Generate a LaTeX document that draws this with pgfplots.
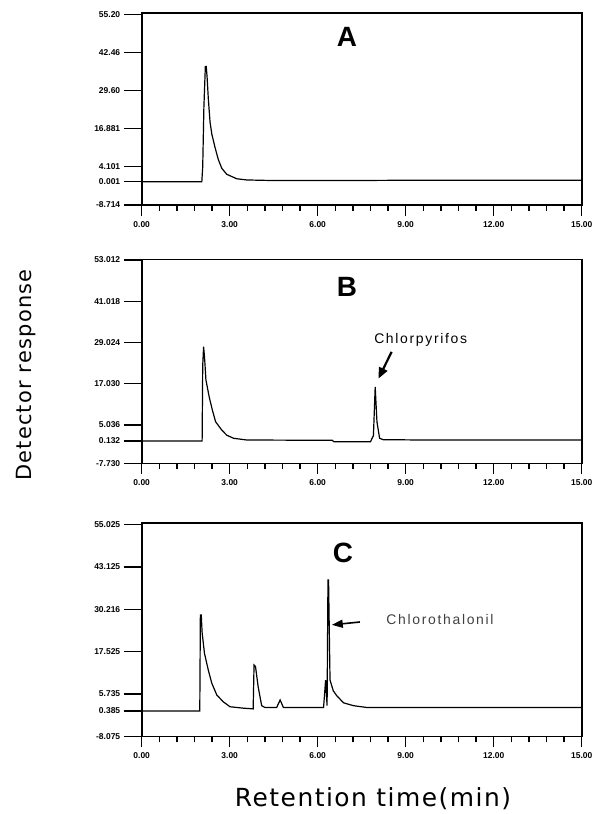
\documentclass[border=0pt]{standalone}
\usepackage{fontspec}
\setmainfont{Liberation Sans}
\newfontfamily\dejavu{DejaVu Sans}
\newfontfamily\spaced[LetterSpace=12]{Liberation Sans}
\newfontfamily\dejavuspaced[LetterSpace=6]{DejaVu Sans}
\usepackage{pgfplots}
\pgfplotsset{compat=1.18}
\usetikzlibrary{arrows.meta}
\pgfplotsset{
  chrom/.style={
    scale only axis, width=440bp,
    xmin=0, xmax=15,
    xtick={0,3,6,9,12,15},
    xticklabels={0.00,3.00,6.00,9.00,12.00,15.00},
    minor x tick num=4,
    ytick=\empty,
    tick pos=left,
    tick align=outside,
    axis line style={line width=1.6bp},
    tick style={black, line width=1.3bp},
    major tick length=11bp, minor tick length=6bp,
    ticklabel style={font=\fontsize{8.5}{9}\selectfont\bfseries, black},
    xticklabel style={yshift=-2bp},
    extra y tick style={major tick length=18bp, tick style={black, line width=1.3bp}},
    clip=false,
  },
  trace/.style={black, line width=1.2bp, mark=none},
}
\begin{document}
\begin{tikzpicture}
\path[use as bounding box] (0,0) rectangle (610bp,-814bp);

% ---------------- Panel A ----------------
\begin{axis}[chrom, at={(141.7bp,-12.7bp)}, anchor=north west, height=192.3bp,
  ymin=-7.8, ymax=56.7,
  minor ytick={-5.24,-2.68,-0.12,2.44,7.56,10.12,12.68,15.24,20.36,22.92,25.48,28.04,33.16,35.72,38.28,40.84,45.96,48.52,51.08,53.64},
  extra y ticks={-7.8,0,5,17.8,30.6,43.4,56.2},
  extra y tick labels={-8.714,0.001,4.101,16.881,29.60,42.46,55.20}]
\addplot[trace] coordinates {
(0,0) (2.05,0) (2.08,5) (2.12,25) (2.17,38.7) (2.20,38.7) (2.23,35) (2.27,28)
(2.33,20) (2.39,16) (2.50,11.5) (2.61,7.5) (2.73,4.5) (2.90,2.5) (3.24,1.0)
(3.58,0.6) (4.5,0.4) (7.0,0.4) (9.0,0.5) (15,0.5)};
\node[font=\fontsize{28}{30}\selectfont\bfseries] at (axis cs:7.0,48.6) {A};
\end{axis}

% ---------------- Panel B ----------------
\begin{axis}[chrom, at={(141.7bp,-259.3bp)}, anchor=north west, height=204bp,
  ymin=-6.5, ymax=53.0,
  minor ytick={-4.27,-2.04,2.43,7.07,9.47,11.88,14.28,19.10,21.50,23.91,26.31,31.13,33.53,35.94,38.34,43.16,45.56,47.97,50.37},
  extra y ticks={-6.5,0,4.66,16.69,28.72,40.75,52.78},
  extra y tick labels={-7.730,0.132,5.036,17.030,29.024,41.018,53.012}]
\addplot[trace] coordinates {
(0,0) (2.06,0) (2.08,22) (2.11,27.5) (2.14,24.6) (2.16,22) (2.19,17.8) (2.30,12.9)
(2.41,9.0) (2.52,5.6) (2.73,3.2) (2.90,1.7) (3.13,0.8) (3.58,0.3) (6.5,0.2)
(6.55,-0.2) (7.8,-0.2) (7.90,1.6) (7.96,15.8) (8.02,5.6) (8.11,0.8) (8.23,0.4)
(9.5,0.3) (15,0.3)};
\node[font=\fontsize{28}{30}\selectfont\bfseries] at (axis cs:7.0,44.9) {B};
\node[font=\spaced\fontsize{14}{16}\selectfont] at (axis cs:9.51,29.4) {Chlorpyrifos};
\draw[-{Triangle[length=11bp,width=9bp]}, line width=2.2bp] (axis cs:8.52,26.0) -- (axis cs:8.07,18.2);
\end{axis}

% ---------------- Panel C ----------------
\begin{axis}[chrom, at={(141.7bp,-523bp)}, anchor=north west, height=213.3bp,
  ymin=-7.1, ymax=52.8,
  minor ytick={-4.72,-2.35,2.40,7.16,9.54,11.90,14.28,19.04,21.42,23.78,26.16,30.92,33.30,35.66,38.04,42.80,45.18,47.54,49.92},
  extra y ticks={-7.1,0,4.78,16.66,28.54,40.42,52.3},
  extra y tick labels={-8.075,0.385,5.735,17.525,30.216,43.125,55.025}]
\addplot[trace] coordinates {
(0,0) (1.98,0) (2.00,27.0) (2.03,27.0) (2.06,22) (2.14,16.2) (2.27,11.5)
(2.39,7.8) (2.56,4.5) (2.78,2.6) (3.01,1.2) (3.47,0.8) (3.80,0.6) (3.83,12.9)
(3.88,12.5) (3.97,6.8) (4.09,1.5) (4.20,1.0) (4.60,1.0) (4.72,3.1) (4.83,1.0)
(6.20,1.0) (6.27,8.7) (6.32,1.5) (6.35,36.8) (6.37,36.8) (6.42,8.7) (6.53,5.7)
(6.64,4.4) (6.88,2.3) (7.22,1.5) (7.67,1.0) (11.0,1.0) (15,1.0)};
\node[font=\fontsize{28}{30}\selectfont\bfseries] at (axis cs:6.86,44.4) {C};
\node[font=\spaced\fontsize{14}{16}\selectfont, text=black!75] at (axis cs:10.17,25.6) {Chlorothalonil};
\draw[-{Triangle[length=11bp,width=8bp]}, line width=1.6bp] (axis cs:7.44,25.0) -- (axis cs:6.48,24.2);
\end{axis}

% ---------------- Titles ----------------
\node[rotate=90, font=\dejavuspaced\fontsize{21}{23}\selectfont] at (26bp,-375bp) {Detector response};
\node[font=\dejavuspaced\fontsize{25}{27}\selectfont] at (373bp,-799bp) {Retention time(min)};
\end{tikzpicture}
\end{document}
